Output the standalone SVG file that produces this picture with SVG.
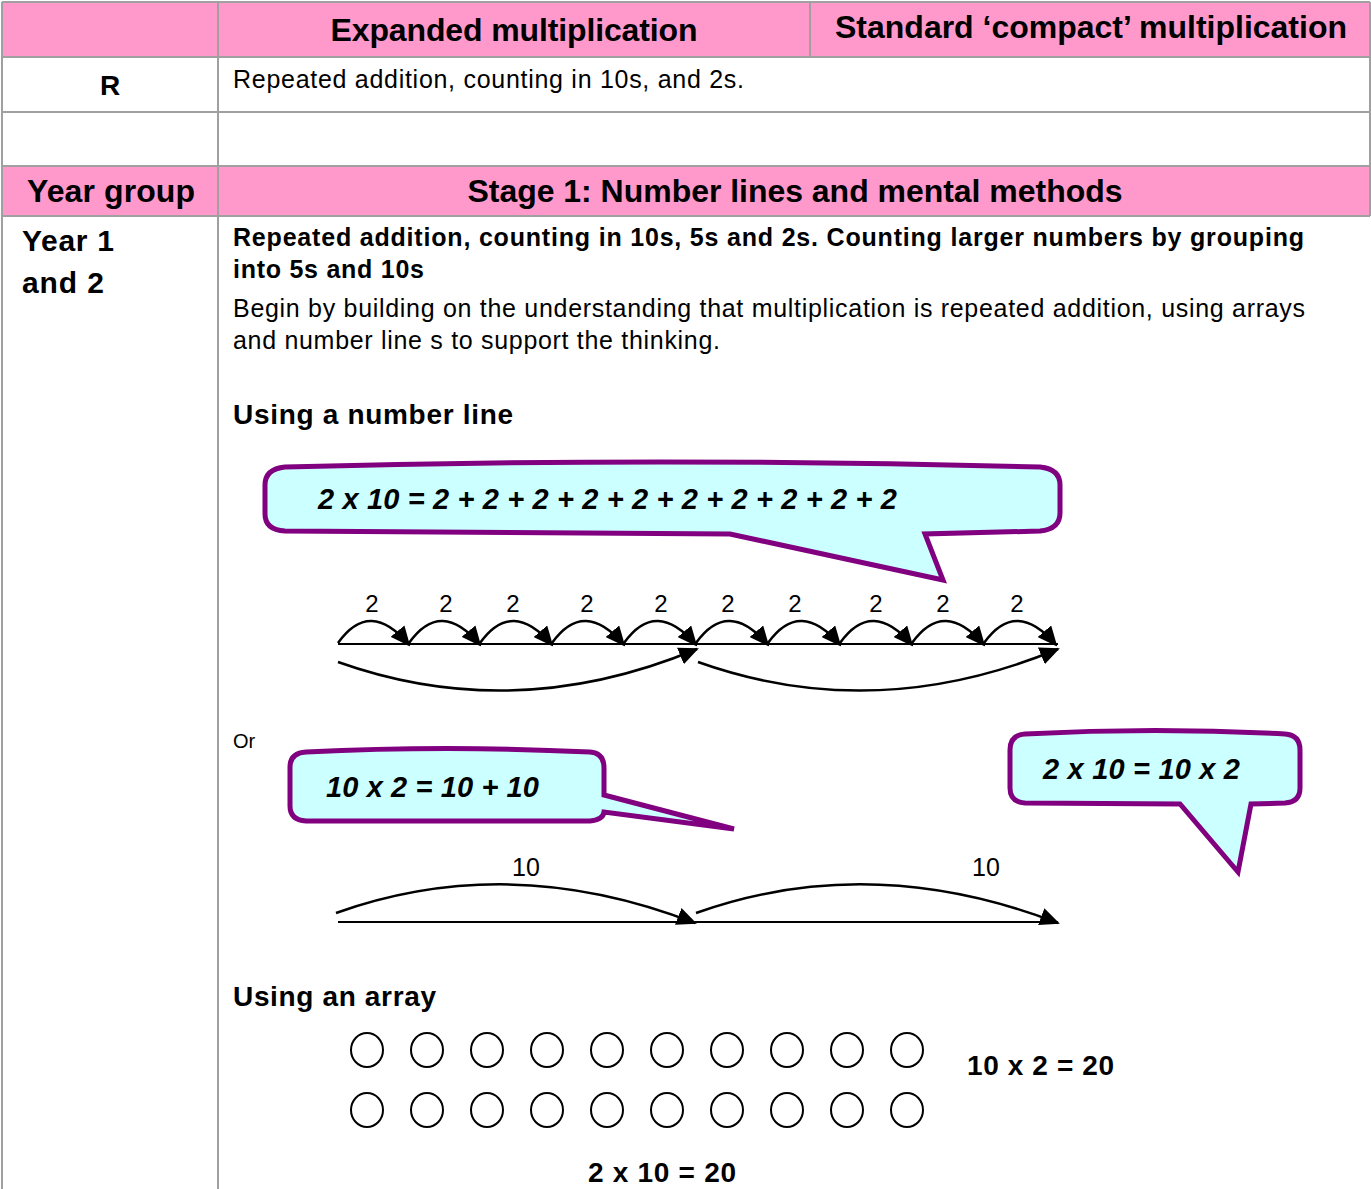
<svg xmlns="http://www.w3.org/2000/svg" width="1371" height="1189" viewBox="0 0 1371 1189">
<style>
text{font-family:"Liberation Sans",Arial,sans-serif;fill:#000}
.b{font-weight:bold}
.bi{font-weight:bold;font-style:italic}
.grid{stroke:#A0A0A0;stroke-width:2;fill:none}
.bubble{fill:#CCFFFF;stroke:#800080;stroke-width:5;stroke-linejoin:miter}
.ln{stroke:#000;stroke-width:2;fill:none}
.arc{stroke:#000;stroke-width:2.5;fill:none;marker-end:url(#ah)}
.dot{fill:#fff;stroke:#000;stroke-width:2}
</style>
<defs>
<marker id="ah" viewBox="0 0 10 10" refX="9" refY="5" markerWidth="20" markerHeight="18" markerUnits="userSpaceOnUse" orient="auto" preserveAspectRatio="none"><path d="M0,0 L10,5 L0,10 z" fill="#000"/></marker>
</defs>
<rect width="1371" height="1189" fill="#fff"/>
<g id="table">
<rect x="2" y="2" width="1368" height="55" fill="#FF99CC"/>
<rect x="2" y="166" width="1368" height="50" fill="#FF99CC"/>
<path class="grid" d="M2,2 H1370 M2,57 H1370 M2,112 H1370 M2,166 H1370 M2,216 H1370 M2,2 V1189 M218,2 V1189 M810,2 V57 M1370,2 V216"/>
<text class="b" x="514" y="41" font-size="32" text-anchor="middle" textLength="367">Expanded multiplication</text>
<text class="b" x="1091" y="38" font-size="32" text-anchor="middle" textLength="512">Standard ‘compact’ multiplication</text>
<text class="b" x="110" y="95" font-size="28" text-anchor="middle">R</text>
<text x="233" y="88" font-size="25" textLength="511">Repeated addition, counting in 10s, and 2s.</text>
<text class="b" x="111" y="202" font-size="32" text-anchor="middle" textLength="168">Year group</text>
<text class="b" x="795" y="202" font-size="32" text-anchor="middle" textLength="655">Stage 1: Number lines and mental methods</text>
<text class="b" x="22" y="251" font-size="30" textLength="92">Year 1</text>
<text class="b" x="22" y="293" font-size="30" textLength="82">and 2</text>
<text class="b" x="233" y="246" font-size="25" textLength="1071">Repeated addition, counting in 10s, 5s and 2s. Counting larger numbers by grouping</text>
<text class="b" x="233" y="278" font-size="25" textLength="191">into 5s and 10s</text>
<text x="233" y="317" font-size="25" textLength="1072">Begin by building on the understanding that multiplication is repeated addition, using arrays</text>
<text x="233" y="349" font-size="25" textLength="487">and number line s to support the thinking.</text>
<text class="b" x="233" y="424" font-size="28" textLength="280">Using a number line</text>
<text x="233" y="748" font-size="20">Or</text>
<text class="b" x="233" y="1006" font-size="28" textLength="203">Using an array</text>
</g>
<g id="bubble1">
<path class="bubble" d="M285,467 Q660,457 1040,467 Q1060,469 1060,485 L1060,513 Q1060,529 1040,531 L925,534 L943,580 L730,534 L285,531 Q265,530 265,514 L265,485 Q265,469 285,467 Z"/>
<text class="bi" x="318" y="509" font-size="29" textLength="579">2 x 10 = 2 + 2 + 2 + 2 + 2 + 2 + 2 + 2 + 2 + 2</text>
</g>
<g id="bubble2">
<path class="bubble" d="M306,752 Q447,745 590,752 Q604,753 604,768 L604,795 L734,829 L604,812 Q603,820 590,821 L306,821 Q290,820 290,806 L290,767 Q290,753 306,752 Z"/>
<text class="bi" x="326" y="797" font-size="29" textLength="213">10 x 2 = 10 + 10</text>
</g>
<g id="bubble3">
<path class="bubble" d="M1025,734 Q1155,727 1285,734 Q1300,735 1300,750 L1300,788 Q1300,802 1285,803 L1251,804 L1238,872 L1180,804 L1025,803 Q1010,802 1010,788 L1010,750 Q1010,735 1025,734 Z"/>
<text class="bi" x="1043" y="779" font-size="29" textLength="197">2 x 10 = 10 x 2</text>
</g>
<g id="numberline1">
<line class="ln" x1="338" y1="644" x2="1058" y2="644"/>
<g font-size="24" text-anchor="middle">
<text x="372" y="612">2</text><text x="446" y="612">2</text><text x="513" y="612">2</text><text x="587" y="612">2</text><text x="661" y="612">2</text><text x="728" y="612">2</text><text x="795" y="612">2</text><text x="876" y="612">2</text><text x="943" y="612">2</text><text x="1017" y="612">2</text>
</g>
</g>
<g id="numberline2">
<line class="ln" x1="338" y1="922" x2="1058" y2="922"/>
<text x="526" y="876" font-size="25" text-anchor="middle">10</text>
<text x="986" y="876" font-size="25" text-anchor="middle">10</text>
</g>
<g id="connectors">
<path class="arc" d="M338,643 Q370,598 409,645"/>
<path class="arc" d="M409,643 Q441,598 480,645"/>
<path class="arc" d="M480,643 Q512,598 552,645"/>
<path class="arc" d="M552,643 Q584,598 624,645"/>
<path class="arc" d="M624,643 Q656,598 696,645"/>
<path class="arc" d="M696,643 Q728,598 768,645"/>
<path class="arc" d="M768,643 Q800,598 840,645"/>
<path class="arc" d="M840,643 Q872,598 912,645"/>
<path class="arc" d="M912,643 Q944,598 984,645"/>
<path class="arc" d="M984,643 Q1016,598 1056,645"/>
<path class="arc" d="M338,662 Q515,725 697,649"/>
<path class="arc" d="M698,662 Q875,725 1058,649"/>
<path class="arc" d="M336,913 Q510,851 695,923"/>
<path class="arc" d="M696,913 Q870,851 1058,923"/>
</g>
<g id="array">
<g id="row1">
<ellipse class="dot" cx="367" cy="1050" rx="16" ry="17"/><ellipse class="dot" cx="427" cy="1050" rx="16" ry="17"/><ellipse class="dot" cx="487" cy="1050" rx="16" ry="17"/><ellipse class="dot" cx="547" cy="1050" rx="16" ry="17"/><ellipse class="dot" cx="607" cy="1050" rx="16" ry="17"/><ellipse class="dot" cx="667" cy="1050" rx="16" ry="17"/><ellipse class="dot" cx="727" cy="1050" rx="16" ry="17"/><ellipse class="dot" cx="787" cy="1050" rx="16" ry="17"/><ellipse class="dot" cx="847" cy="1050" rx="16" ry="17"/><ellipse class="dot" cx="907" cy="1050" rx="16" ry="17"/>
</g>
<g id="row2">
<ellipse class="dot" cx="367" cy="1110" rx="16" ry="17"/><ellipse class="dot" cx="427" cy="1110" rx="16" ry="17"/><ellipse class="dot" cx="487" cy="1110" rx="16" ry="17"/><ellipse class="dot" cx="547" cy="1110" rx="16" ry="17"/><ellipse class="dot" cx="607" cy="1110" rx="16" ry="17"/><ellipse class="dot" cx="667" cy="1110" rx="16" ry="17"/><ellipse class="dot" cx="727" cy="1110" rx="16" ry="17"/><ellipse class="dot" cx="787" cy="1110" rx="16" ry="17"/><ellipse class="dot" cx="847" cy="1110" rx="16" ry="17"/><ellipse class="dot" cx="907" cy="1110" rx="16" ry="17"/>
</g>
<text class="b" x="967" y="1075" font-size="28" textLength="147">10 x 2 = 20</text>
<text class="b" x="588" y="1182" font-size="28" textLength="148">2 x 10 = 20</text>
</g>
</svg>
